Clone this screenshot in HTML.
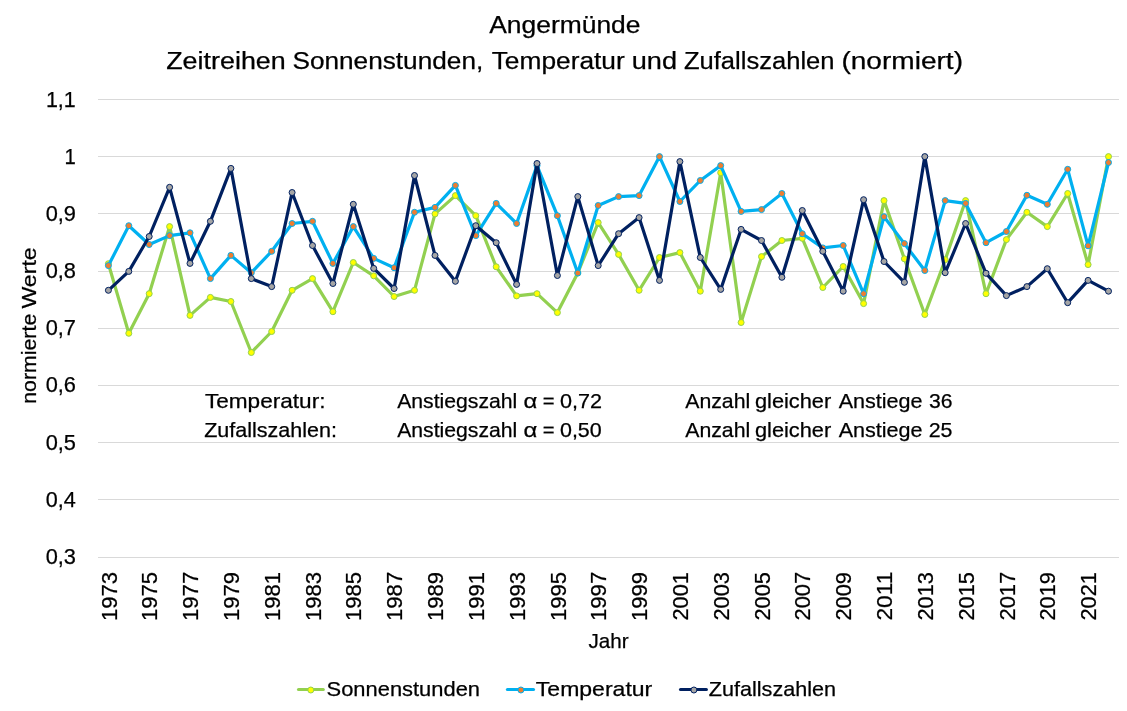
<!DOCTYPE html>
<html lang="de"><head><meta charset="utf-8"><title>Angermünde – Zeitreihen</title>
<style>html,body{margin:0;padding:0;background:#fff;overflow:hidden}svg{display:block;will-change:transform}text{font-family:"Liberation Sans", sans-serif;fill:#000;stroke:#000;stroke-width:.25px}</style></head><body>
<svg width="1127" height="711" viewBox="0 0 1127 711">
<rect width="1127" height="711" fill="#fff"/>
<g stroke="#d9d9d9" stroke-width="1" shape-rendering="crispEdges">
<line x1="98.1" y1="99.4" x2="1118.5" y2="99.4"/>
<line x1="98.1" y1="156.6" x2="1118.5" y2="156.6"/>
<line x1="98.1" y1="213.8" x2="1118.5" y2="213.8"/>
<line x1="98.1" y1="271.0" x2="1118.5" y2="271.0"/>
<line x1="98.1" y1="328.2" x2="1118.5" y2="328.2"/>
<line x1="98.1" y1="385.5" x2="1118.5" y2="385.5"/>
<line x1="98.1" y1="442.7" x2="1118.5" y2="442.7"/>
<line x1="98.1" y1="499.9" x2="1118.5" y2="499.9"/>
<line x1="98.1" y1="557.1" x2="1118.5" y2="557.1"/>
</g>
<text x="489.20" y="32.7" font-size="23.50" textLength="151.30" lengthAdjust="spacingAndGlyphs">Angermünde</text>
<text x="166.20" y="68.8" font-size="23.50" textLength="119.55" lengthAdjust="spacingAndGlyphs">Zeitreihen</text>
<text x="292.45" y="68.8" font-size="23.50" textLength="190.80" lengthAdjust="spacingAndGlyphs">Sonnenstunden,</text>
<text x="491.70" y="68.8" font-size="23.50" textLength="133.05" lengthAdjust="spacingAndGlyphs">Temperatur</text>
<text x="631.70" y="68.8" font-size="23.50" textLength="45.30" lengthAdjust="spacingAndGlyphs">und</text>
<text x="683.95" y="68.8" font-size="23.50" textLength="150.55" lengthAdjust="spacingAndGlyphs">Zufallszahlen</text>
<text x="841.45" y="68.8" font-size="23.50" textLength="121.55" lengthAdjust="spacingAndGlyphs">(normiert)</text>
<text x="45.95" y="106.8" font-size="21.80" textLength="29.80" lengthAdjust="spacingAndGlyphs">1,1</text>
<text x="64.45" y="163.9" font-size="21.80" textLength="11.30" lengthAdjust="spacingAndGlyphs">1</text>
<text x="45.70" y="221.0" font-size="21.80" textLength="30.30" lengthAdjust="spacingAndGlyphs">0,9</text>
<text x="45.70" y="278.2" font-size="21.80" textLength="30.30" lengthAdjust="spacingAndGlyphs">0,8</text>
<text x="45.70" y="335.3" font-size="21.80" textLength="30.30" lengthAdjust="spacingAndGlyphs">0,7</text>
<text x="45.70" y="392.4" font-size="21.80" textLength="30.30" lengthAdjust="spacingAndGlyphs">0,6</text>
<text x="45.70" y="449.5" font-size="21.80" textLength="30.30" lengthAdjust="spacingAndGlyphs">0,5</text>
<text x="45.70" y="506.6" font-size="21.80" textLength="30.05" lengthAdjust="spacingAndGlyphs">0,4</text>
<text x="45.70" y="563.8" font-size="21.80" textLength="30.30" lengthAdjust="spacingAndGlyphs">0,3</text>
<text x="588.45" y="647.7" font-size="19.80" textLength="40.05" lengthAdjust="spacingAndGlyphs">Jahr</text>
<text x="204.95" y="407.9" font-size="19.80" textLength="120.55" lengthAdjust="spacingAndGlyphs">Temperatur:</text>
<text x="397.20" y="407.9" font-size="19.80" textLength="120.05" lengthAdjust="spacingAndGlyphs">Anstiegszahl</text>
<text x="523.45" y="407.9" font-size="19.80" textLength="13.80" lengthAdjust="spacingAndGlyphs">α</text>
<text x="542.70" y="407.9" font-size="19.80" textLength="11.80" lengthAdjust="spacingAndGlyphs">=</text>
<text x="559.95" y="407.9" font-size="19.80" textLength="42.05" lengthAdjust="spacingAndGlyphs">0,72</text>
<text x="685.20" y="407.9" font-size="19.80" textLength="65.05" lengthAdjust="spacingAndGlyphs">Anzahl</text>
<text x="754.95" y="407.9" font-size="19.80" textLength="76.30" lengthAdjust="spacingAndGlyphs">gleicher</text>
<text x="838.70" y="407.9" font-size="19.80" textLength="83.80" lengthAdjust="spacingAndGlyphs">Anstiege</text>
<text x="928.95" y="407.9" font-size="19.80" textLength="23.55" lengthAdjust="spacingAndGlyphs">36</text>
<text x="204.20" y="436.5" font-size="19.80" textLength="132.80" lengthAdjust="spacingAndGlyphs">Zufallszahlen:</text>
<text x="397.20" y="436.5" font-size="19.80" textLength="120.05" lengthAdjust="spacingAndGlyphs">Anstiegszahl</text>
<text x="523.45" y="436.5" font-size="19.80" textLength="13.80" lengthAdjust="spacingAndGlyphs">α</text>
<text x="542.70" y="436.5" font-size="19.80" textLength="11.80" lengthAdjust="spacingAndGlyphs">=</text>
<text x="559.95" y="436.5" font-size="19.80" textLength="41.80" lengthAdjust="spacingAndGlyphs">0,50</text>
<text x="685.20" y="436.5" font-size="19.80" textLength="65.05" lengthAdjust="spacingAndGlyphs">Anzahl</text>
<text x="754.95" y="436.5" font-size="19.80" textLength="76.30" lengthAdjust="spacingAndGlyphs">gleicher</text>
<text x="838.70" y="436.5" font-size="19.80" textLength="83.80" lengthAdjust="spacingAndGlyphs">Anstiege</text>
<text x="928.70" y="436.5" font-size="19.80" textLength="23.80" lengthAdjust="spacingAndGlyphs">25</text>
<text x="326.60" y="696.3" font-size="19.80" textLength="153.40" lengthAdjust="spacingAndGlyphs">Sonnenstunden</text>
<text x="535.85" y="696.3" font-size="19.80" textLength="116.40" lengthAdjust="spacingAndGlyphs">Temperatur</text>
<text x="708.80" y="696.3" font-size="19.80" textLength="127.20" lengthAdjust="spacingAndGlyphs">Zufallszahlen</text>
<text transform="translate(36.4 403.80) rotate(-90)" font-size="19.80" textLength="90.05" lengthAdjust="spacingAndGlyphs">normierte</text>
<text transform="translate(36.4 308.55) rotate(-90)" font-size="19.80" textLength="61.30" lengthAdjust="spacingAndGlyphs">Werte</text>
<text transform="translate(116.5 621.05) rotate(-90)" font-size="21.80" textLength="49.05" lengthAdjust="spacingAndGlyphs">1973</text>
<text transform="translate(157.3 621.05) rotate(-90)" font-size="21.80" textLength="49.05" lengthAdjust="spacingAndGlyphs">1975</text>
<text transform="translate(198.1 621.05) rotate(-90)" font-size="21.80" textLength="49.30" lengthAdjust="spacingAndGlyphs">1977</text>
<text transform="translate(239.0 621.05) rotate(-90)" font-size="21.80" textLength="49.05" lengthAdjust="spacingAndGlyphs">1979</text>
<text transform="translate(279.8 621.05) rotate(-90)" font-size="21.80" textLength="49.05" lengthAdjust="spacingAndGlyphs">1981</text>
<text transform="translate(320.6 621.05) rotate(-90)" font-size="21.80" textLength="49.05" lengthAdjust="spacingAndGlyphs">1983</text>
<text transform="translate(361.4 621.05) rotate(-90)" font-size="21.80" textLength="49.05" lengthAdjust="spacingAndGlyphs">1985</text>
<text transform="translate(402.2 621.05) rotate(-90)" font-size="21.80" textLength="49.30" lengthAdjust="spacingAndGlyphs">1987</text>
<text transform="translate(443.1 621.05) rotate(-90)" font-size="21.80" textLength="49.05" lengthAdjust="spacingAndGlyphs">1989</text>
<text transform="translate(483.9 621.05) rotate(-90)" font-size="21.80" textLength="49.05" lengthAdjust="spacingAndGlyphs">1991</text>
<text transform="translate(524.7 621.05) rotate(-90)" font-size="21.80" textLength="49.05" lengthAdjust="spacingAndGlyphs">1993</text>
<text transform="translate(565.5 621.05) rotate(-90)" font-size="21.80" textLength="49.05" lengthAdjust="spacingAndGlyphs">1995</text>
<text transform="translate(606.3 621.05) rotate(-90)" font-size="21.80" textLength="49.30" lengthAdjust="spacingAndGlyphs">1997</text>
<text transform="translate(647.2 621.05) rotate(-90)" font-size="21.80" textLength="49.05" lengthAdjust="spacingAndGlyphs">1999</text>
<text transform="translate(688.0 620.55) rotate(-90)" font-size="21.80" textLength="48.55" lengthAdjust="spacingAndGlyphs">2001</text>
<text transform="translate(728.8 620.55) rotate(-90)" font-size="21.80" textLength="48.55" lengthAdjust="spacingAndGlyphs">2003</text>
<text transform="translate(769.6 620.55) rotate(-90)" font-size="21.80" textLength="48.55" lengthAdjust="spacingAndGlyphs">2005</text>
<text transform="translate(810.4 620.55) rotate(-90)" font-size="21.80" textLength="48.80" lengthAdjust="spacingAndGlyphs">2007</text>
<text transform="translate(851.3 620.55) rotate(-90)" font-size="21.80" textLength="48.55" lengthAdjust="spacingAndGlyphs">2009</text>
<text transform="translate(892.1 620.55) rotate(-90)" font-size="21.80" textLength="48.80" lengthAdjust="spacingAndGlyphs">2011</text>
<text transform="translate(932.9 620.55) rotate(-90)" font-size="21.80" textLength="48.55" lengthAdjust="spacingAndGlyphs">2013</text>
<text transform="translate(973.7 620.55) rotate(-90)" font-size="21.80" textLength="48.55" lengthAdjust="spacingAndGlyphs">2015</text>
<text transform="translate(1014.5 620.55) rotate(-90)" font-size="21.80" textLength="48.80" lengthAdjust="spacingAndGlyphs">2017</text>
<text transform="translate(1055.4 620.55) rotate(-90)" font-size="21.80" textLength="48.55" lengthAdjust="spacingAndGlyphs">2019</text>
<text transform="translate(1096.2 620.55) rotate(-90)" font-size="21.80" textLength="48.55" lengthAdjust="spacingAndGlyphs">2021</text>
<polyline points="108.4,263.7 128.8,333.3 149.2,293.7 169.6,226.6 190.0,315.4 210.4,297.4 230.9,301.5 251.3,352.5 271.7,331.5 292.1,290.3 312.5,278.6 332.9,311.7 353.3,262.5 373.7,275.8 394.1,296.5 414.5,290.3 435.0,213.9 455.4,195.6 475.8,215.7 496.2,266.8 516.6,295.9 537.0,293.7 557.4,312.6 577.8,273.0 598.2,222.6 618.6,254.4 639.1,290.3 659.5,257.5 679.9,252.6 700.3,291.2 720.7,172.7 741.1,322.5 761.5,256.6 781.9,240.5 802.3,238.3 822.8,287.5 843.2,266.5 863.6,303.6 884.0,200.6 904.4,258.8 924.8,314.5 945.2,259.7 965.6,200.6 986.0,293.7 1006.4,239.6 1026.9,212.3 1047.3,226.6 1067.7,193.5 1088.1,264.6 1108.5,156.6" fill="none" stroke="#92d050" stroke-width="3.2" stroke-linejoin="round" stroke-linecap="round"/>
<g fill="#ffff00" stroke="#92d050" stroke-width="1">
<circle cx="108.4" cy="263.7" r="3"/>
<circle cx="128.8" cy="333.3" r="3"/>
<circle cx="149.2" cy="293.7" r="3"/>
<circle cx="169.6" cy="226.6" r="3"/>
<circle cx="190.0" cy="315.4" r="3"/>
<circle cx="210.4" cy="297.4" r="3"/>
<circle cx="230.9" cy="301.5" r="3"/>
<circle cx="251.3" cy="352.5" r="3"/>
<circle cx="271.7" cy="331.5" r="3"/>
<circle cx="292.1" cy="290.3" r="3"/>
<circle cx="312.5" cy="278.6" r="3"/>
<circle cx="332.9" cy="311.7" r="3"/>
<circle cx="353.3" cy="262.5" r="3"/>
<circle cx="373.7" cy="275.8" r="3"/>
<circle cx="394.1" cy="296.5" r="3"/>
<circle cx="414.5" cy="290.3" r="3"/>
<circle cx="435.0" cy="213.9" r="3"/>
<circle cx="455.4" cy="195.6" r="3"/>
<circle cx="475.8" cy="215.7" r="3"/>
<circle cx="496.2" cy="266.8" r="3"/>
<circle cx="516.6" cy="295.9" r="3"/>
<circle cx="537.0" cy="293.7" r="3"/>
<circle cx="557.4" cy="312.6" r="3"/>
<circle cx="577.8" cy="273.0" r="3"/>
<circle cx="598.2" cy="222.6" r="3"/>
<circle cx="618.6" cy="254.4" r="3"/>
<circle cx="639.1" cy="290.3" r="3"/>
<circle cx="659.5" cy="257.5" r="3"/>
<circle cx="679.9" cy="252.6" r="3"/>
<circle cx="700.3" cy="291.2" r="3"/>
<circle cx="720.7" cy="172.7" r="3"/>
<circle cx="741.1" cy="322.5" r="3"/>
<circle cx="761.5" cy="256.6" r="3"/>
<circle cx="781.9" cy="240.5" r="3"/>
<circle cx="802.3" cy="238.3" r="3"/>
<circle cx="822.8" cy="287.5" r="3"/>
<circle cx="843.2" cy="266.5" r="3"/>
<circle cx="863.6" cy="303.6" r="3"/>
<circle cx="884.0" cy="200.6" r="3"/>
<circle cx="904.4" cy="258.8" r="3"/>
<circle cx="924.8" cy="314.5" r="3"/>
<circle cx="945.2" cy="259.7" r="3"/>
<circle cx="965.6" cy="200.6" r="3"/>
<circle cx="986.0" cy="293.7" r="3"/>
<circle cx="1006.4" cy="239.6" r="3"/>
<circle cx="1026.9" cy="212.3" r="3"/>
<circle cx="1047.3" cy="226.6" r="3"/>
<circle cx="1067.7" cy="193.5" r="3"/>
<circle cx="1088.1" cy="264.6" r="3"/>
<circle cx="1108.5" cy="156.6" r="3"/>
</g>
<polyline points="108.4,265.6 128.8,225.7 149.2,244.5 169.6,235.6 190.0,232.8 210.4,278.6 230.9,255.4 251.3,272.7 271.7,251.3 292.1,223.5 312.5,221.3 332.9,263.4 353.3,226.6 373.7,258.4 394.1,267.7 414.5,212.3 435.0,207.4 455.4,185.4 475.8,235.6 496.2,203.4 516.6,223.5 537.0,165.6 557.4,215.7 577.8,273.0 598.2,205.5 618.6,196.6 639.1,195.6 659.5,156.6 679.9,201.5 700.3,180.5 720.7,165.6 741.1,211.4 761.5,209.6 781.9,193.5 802.3,233.7 822.8,247.9 843.2,245.5 863.6,293.7 884.0,216.7 904.4,243.6 924.8,270.5 945.2,200.6 965.6,203.4 986.0,242.7 1006.4,231.5 1026.9,195.3 1047.3,204.3 1067.7,169.3 1088.1,245.8 1108.5,162.5" fill="none" stroke="#00b0f0" stroke-width="3.2" stroke-linejoin="round" stroke-linecap="round"/>
<g fill="#ed7d31" stroke="#00b0f0" stroke-width="1">
<circle cx="108.4" cy="265.6" r="3"/>
<circle cx="128.8" cy="225.7" r="3"/>
<circle cx="149.2" cy="244.5" r="3"/>
<circle cx="169.6" cy="235.6" r="3"/>
<circle cx="190.0" cy="232.8" r="3"/>
<circle cx="210.4" cy="278.6" r="3"/>
<circle cx="230.9" cy="255.4" r="3"/>
<circle cx="251.3" cy="272.7" r="3"/>
<circle cx="271.7" cy="251.3" r="3"/>
<circle cx="292.1" cy="223.5" r="3"/>
<circle cx="312.5" cy="221.3" r="3"/>
<circle cx="332.9" cy="263.4" r="3"/>
<circle cx="353.3" cy="226.6" r="3"/>
<circle cx="373.7" cy="258.4" r="3"/>
<circle cx="394.1" cy="267.7" r="3"/>
<circle cx="414.5" cy="212.3" r="3"/>
<circle cx="435.0" cy="207.4" r="3"/>
<circle cx="455.4" cy="185.4" r="3"/>
<circle cx="475.8" cy="235.6" r="3"/>
<circle cx="496.2" cy="203.4" r="3"/>
<circle cx="516.6" cy="223.5" r="3"/>
<circle cx="537.0" cy="165.6" r="3"/>
<circle cx="557.4" cy="215.7" r="3"/>
<circle cx="577.8" cy="273.0" r="3"/>
<circle cx="598.2" cy="205.5" r="3"/>
<circle cx="618.6" cy="196.6" r="3"/>
<circle cx="639.1" cy="195.6" r="3"/>
<circle cx="659.5" cy="156.6" r="3"/>
<circle cx="679.9" cy="201.5" r="3"/>
<circle cx="700.3" cy="180.5" r="3"/>
<circle cx="720.7" cy="165.6" r="3"/>
<circle cx="741.1" cy="211.4" r="3"/>
<circle cx="761.5" cy="209.6" r="3"/>
<circle cx="781.9" cy="193.5" r="3"/>
<circle cx="802.3" cy="233.7" r="3"/>
<circle cx="822.8" cy="247.9" r="3"/>
<circle cx="843.2" cy="245.5" r="3"/>
<circle cx="863.6" cy="293.7" r="3"/>
<circle cx="884.0" cy="216.7" r="3"/>
<circle cx="904.4" cy="243.6" r="3"/>
<circle cx="924.8" cy="270.5" r="3"/>
<circle cx="945.2" cy="200.6" r="3"/>
<circle cx="965.6" cy="203.4" r="3"/>
<circle cx="986.0" cy="242.7" r="3"/>
<circle cx="1006.4" cy="231.5" r="3"/>
<circle cx="1026.9" cy="195.3" r="3"/>
<circle cx="1047.3" cy="204.3" r="3"/>
<circle cx="1067.7" cy="169.3" r="3"/>
<circle cx="1088.1" cy="245.8" r="3"/>
<circle cx="1108.5" cy="162.5" r="3"/>
</g>
<polyline points="108.4,290.3 128.8,271.4 149.2,236.5 169.6,187.3 190.0,263.4 210.4,221.3 230.9,168.4 251.3,278.6 271.7,286.6 292.1,192.5 312.5,245.5 332.9,283.5 353.3,204.3 373.7,268.4 394.1,288.5 414.5,175.5 435.0,255.4 455.4,281.3 475.8,225.7 496.2,242.7 516.6,284.4 537.0,163.5 557.4,275.5 577.8,196.6 598.2,265.6 618.6,233.7 639.1,217.6 659.5,280.4 679.9,161.6 700.3,257.5 720.7,289.4 741.1,229.4 761.5,240.5 781.9,277.3 802.3,210.5 822.8,251.3 843.2,291.2 863.6,199.7 884.0,261.5 904.4,282.3 924.8,156.6 945.2,272.7 965.6,223.5 986.0,273.3 1006.4,295.6 1026.9,286.6 1047.3,268.7 1067.7,302.7 1088.1,280.4 1108.5,291.2" fill="none" stroke="#002060" stroke-width="3.2" stroke-linejoin="round" stroke-linecap="round"/>
<g fill="#a5a5a5" stroke="#002060" stroke-width="1">
<circle cx="108.4" cy="290.3" r="3"/>
<circle cx="128.8" cy="271.4" r="3"/>
<circle cx="149.2" cy="236.5" r="3"/>
<circle cx="169.6" cy="187.3" r="3"/>
<circle cx="190.0" cy="263.4" r="3"/>
<circle cx="210.4" cy="221.3" r="3"/>
<circle cx="230.9" cy="168.4" r="3"/>
<circle cx="251.3" cy="278.6" r="3"/>
<circle cx="271.7" cy="286.6" r="3"/>
<circle cx="292.1" cy="192.5" r="3"/>
<circle cx="312.5" cy="245.5" r="3"/>
<circle cx="332.9" cy="283.5" r="3"/>
<circle cx="353.3" cy="204.3" r="3"/>
<circle cx="373.7" cy="268.4" r="3"/>
<circle cx="394.1" cy="288.5" r="3"/>
<circle cx="414.5" cy="175.5" r="3"/>
<circle cx="435.0" cy="255.4" r="3"/>
<circle cx="455.4" cy="281.3" r="3"/>
<circle cx="475.8" cy="225.7" r="3"/>
<circle cx="496.2" cy="242.7" r="3"/>
<circle cx="516.6" cy="284.4" r="3"/>
<circle cx="537.0" cy="163.5" r="3"/>
<circle cx="557.4" cy="275.5" r="3"/>
<circle cx="577.8" cy="196.6" r="3"/>
<circle cx="598.2" cy="265.6" r="3"/>
<circle cx="618.6" cy="233.7" r="3"/>
<circle cx="639.1" cy="217.6" r="3"/>
<circle cx="659.5" cy="280.4" r="3"/>
<circle cx="679.9" cy="161.6" r="3"/>
<circle cx="700.3" cy="257.5" r="3"/>
<circle cx="720.7" cy="289.4" r="3"/>
<circle cx="741.1" cy="229.4" r="3"/>
<circle cx="761.5" cy="240.5" r="3"/>
<circle cx="781.9" cy="277.3" r="3"/>
<circle cx="802.3" cy="210.5" r="3"/>
<circle cx="822.8" cy="251.3" r="3"/>
<circle cx="843.2" cy="291.2" r="3"/>
<circle cx="863.6" cy="199.7" r="3"/>
<circle cx="884.0" cy="261.5" r="3"/>
<circle cx="904.4" cy="282.3" r="3"/>
<circle cx="924.8" cy="156.6" r="3"/>
<circle cx="945.2" cy="272.7" r="3"/>
<circle cx="965.6" cy="223.5" r="3"/>
<circle cx="986.0" cy="273.3" r="3"/>
<circle cx="1006.4" cy="295.6" r="3"/>
<circle cx="1026.9" cy="286.6" r="3"/>
<circle cx="1047.3" cy="268.7" r="3"/>
<circle cx="1067.7" cy="302.7" r="3"/>
<circle cx="1088.1" cy="280.4" r="3"/>
<circle cx="1108.5" cy="291.2" r="3"/>
</g>
<line x1="298.5" y1="689.45" x2="323.3" y2="689.45" stroke="#92d050" stroke-width="3.1" stroke-linecap="round"/>
<circle cx="310.8" cy="690" r="3" fill="#ffff00" stroke="#92d050" stroke-width="1"/>
<line x1="507.4" y1="689.45" x2="533.5" y2="689.45" stroke="#00b0f0" stroke-width="3.1" stroke-linecap="round"/>
<circle cx="520.9" cy="690" r="3" fill="#ed7d31" stroke="#00b0f0" stroke-width="1"/>
<line x1="680.5" y1="689.45" x2="706.4" y2="689.45" stroke="#002060" stroke-width="3.1" stroke-linecap="round"/>
<circle cx="693.9" cy="690" r="3" fill="#a5a5a5" stroke="#002060" stroke-width="1"/>
</svg></body></html>
